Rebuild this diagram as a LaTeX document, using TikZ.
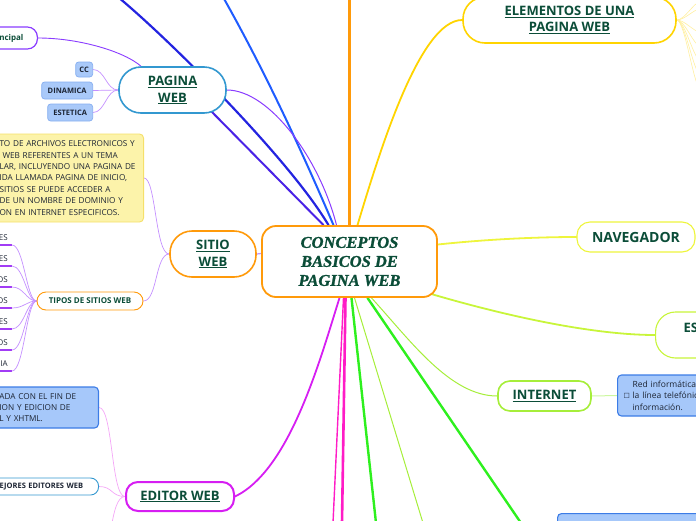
\documentclass[tikz,border=0pt]{standalone}
\usepackage{fontspec}
\setmainfont{Open Sans}
\newfontfamily\mmtitlefont[BoldItalicFeatures={FakeBold=1.2}]{Liberation Serif}
\newfontfamily\mmsymfont{DejaVu Sans}
\usepackage{tikz}
\usetikzlibrary{positioning,backgrounds,calc}
\definecolor{mmText}{HTML}{0B4D38}
\definecolor{mmInk}{HTML}{1C2433}
\definecolor{mmOrange}{HTML}{FF9A0A}
\definecolor{mmTeal}{HTML}{3398D0}
\definecolor{mmBlue}{HTML}{1F5CFF}
\definecolor{mmNavy}{HTML}{2424E0}
\definecolor{mmIndigo}{HTML}{4A22E6}
\definecolor{mmViolet}{HTML}{8A3CFF}
\definecolor{mmLeafBar}{HTML}{A23CF5}
\definecolor{mmLilac}{HTML}{C490FF}
\definecolor{mmYellow}{HTML}{FFD400}
\definecolor{mmPaleYellow}{HTML}{FFEFA0}
\definecolor{mmLime}{HTML}{EEF53C}
\definecolor{mmLimeB}{HTML}{C8F53A}
\definecolor{mmGreen}{HTML}{2EF01E}
\definecolor{mmLightGreen}{HTML}{A6EE3A}
\definecolor{mmPaleGreen}{HTML}{CDF7A0}
\definecolor{mmMagenta}{HTML}{D61EF2}
\definecolor{mmPink}{HTML}{FF1CC6}
\definecolor{mmPaleMagenta}{HTML}{F4A6F7}
\definecolor{mmChip}{HTML}{A9C9F9}
\definecolor{mmChipLine}{HTML}{86AEF0}
\definecolor{mmNoteY}{HTML}{FCF3AA}
\definecolor{mmNoteYLine}{HTML}{F5E06A}
\definecolor{mmNoteB}{HTML}{A6C8FA}
\definecolor{mmNoteBLine}{HTML}{3C7CE6}
\tikzset{
  mmnode/.style={draw, fill=white, align=center, text=mmText, inner sep=2pt},
  central/.style={mmnode, draw=mmOrange, line width=1.8pt, rounded corners=14pt,
    minimum width=175pt, minimum height=71pt,
    font=\mmtitlefont\bfseries\itshape\fontsize{16.5}{19}\selectfont},
  topic/.style={mmnode, line width=1.6pt, font=\bfseries\fontsize{13}{17}\selectfont},
  subtopic/.style={mmnode, line width=0.9pt, font=\bfseries\fontsize{8}{10}\selectfont, minimum height=18pt},
  chip/.style={mmnode, draw=mmChipLine, fill=mmChip, line width=0.7pt, rounded corners=3pt,
    text=mmInk, font=\bfseries\fontsize{7.5}{9}\selectfont, minimum height=17pt, inner xsep=3pt},
  note/.style={draw, rounded corners=4pt, line width=0.9pt, align=left, text=mmInk,
    font=\fontsize{8.2}{11.4}\selectfont, inner xsep=4pt},
  yellownote/.style={note, fill=mmNoteY, draw=mmNoteYLine},
  bluenote/.style={note, fill=mmNoteB, draw=mmNoteBLine, line width=1.1pt},
  tipoleaf/.style={inner xsep=4pt, inner ysep=4pt, text=mmInk, font=\fontsize{8}{10}\selectfont},
  branch/.style={line cap=round},
  twig/.style={line width=0.7pt, line cap=round},
  leafbar/.style={line width=1.4pt, mmLeafBar}
}
\begin{document}
\begin{tikzpicture}[x=1pt, y=-1pt]
  \useasboundingbox (0,0) rectangle (696,520);

  % centre and main topics
  \node[central] (central) at (349.5,261.5) {CONCEPTOS\\BASICOS DE\\PAGINA WEB};
  \node[topic, draw=mmTeal, minimum width=107pt, minimum height=46pt, rounded corners=22pt] (pagina) at (172.5,90) {\underline{PAGINA}\\\underline{WEB}};
  \node[topic, draw=mmOrange, minimum width=86pt, minimum height=46pt, rounded corners=22pt] (sitio) at (213,254) {\underline{SITIO}\\\underline{WEB}};
  \node[topic, draw=mmMagenta, line width=2pt, minimum width=108pt, minimum height=29pt, rounded corners=12pt] (editor) at (180,496.5) {\underline{EDITOR WEB}};
  \node[topic, draw=mmYellow, minimum width=213pt, minimum height=46pt, rounded corners=22pt, font=\bfseries\fontsize{13}{16}\selectfont] (elementos) at (569.5,20) {\underline{ELEMENTOS DE UNA}\\\underline{PAGINA WEB}};
  \node[topic, draw=mmLime, line width=1.1pt, minimum width=118pt, minimum height=30pt, rounded corners=13pt, font=\bfseries\fontsize{14}{17}\selectfont] (navegador) at (636,237) {NAVEGADOR};
  \node[topic, draw=mmLimeB, line width=1.1pt, anchor=west, minimum height=46pt, rounded corners=20pt, align=left, text width=60pt, inner xsep=28pt, text height=9pt, text depth=15pt] (es) at (655,335) {ES};
  \node[topic, draw=mmLightGreen, minimum width=93pt, minimum height=30pt, rounded corners=12pt] (internet) at (544.5,396) {\underline{INTERNET}};

  % sub topics and notes
  \node[chip, anchor=east, minimum width=17pt, minimum height=15pt] (cc) at (93,69.5) {CC};
  \node[chip, anchor=east, minimum width=51pt] (dinamica) at (93,90.5) {DINAMICA};
  \node[chip, anchor=east, minimum width=45pt] (estetica) at (93,112.5) {ESTETICA};
  \node[subtopic, draw=mmViolet, line width=1.2pt, rounded corners=10pt, anchor=east, minimum height=22pt, text width=52pt, align=right, inner xsep=14pt] (principal) at (38,38) {ncipal};
  \node[yellownote, anchor=east, text width=140pt, minimum height=88pt] (sitiodef) at (144,178) {TO DE ARCHIVOS ELECTRONICOS Y\\\hspace*{3pt}WEB REFERENTES A UN TEMA\\LAR, INCLUYENDO UNA PAGINA DE\\IDA LLAMADA PAGINA DE INICIO,\\SITIOS SE PUEDE ACCEDER A\\DE UN NOMBRE DE DOMINIO Y\\ON EN INTERNET ESPECIFICOS.};
  \node[subtopic, draw=mmOrange, rounded corners=9pt, minimum width=106pt] (tipos) at (90,301) {TIPOS DE SITIOS WEB};
  \foreach \lbl [count=\i] in {ES,ES,OS,OS,ES,OS,IA}
    \node[tipoleaf, anchor=south east] (tipo\i) at (12,224+21*\i) {\lbl};
  \node[bluenote, anchor=east, text width=95pt, minimum height=41pt] (editordef) at (99,407.5) {ADA CON EL FIN DE\\ION Y EDICION DE\\L Y XHTML.};
  \node[subtopic, draw=mmTeal, text=mmInk, rounded corners=8pt, minimum height=17pt, anchor=east, text width=87pt, align=left, inner xsep=12pt, font=\bfseries\fontsize{7.5}{9}\selectfont] (mejores) at (99,486.5) {EJORES EDITORES WEB};
  \node[bluenote, anchor=west, minimum height=41pt, text width=120pt, inner xsep=6pt, font=\fontsize{8.5}{11.7}\selectfont] (internetdef) at (617,395.5) {\makebox[9pt][l]{}Red informática\\\makebox[9pt][l]{\mmsymfont\fontsize{7}{7}\selectfont ☐}la línea telefónic\\\makebox[9pt][l]{}información.};
  \node[bluenote, anchor=north west, minimum width=160pt, minimum height=30pt] (bottomdef) at (557,513) {};

  % free ends outside the frame
  \coordinate (topA) at (223,-3);
  \coordinate (topB) at (118,-3);
  \coordinate (topC) at (349.5,-3);
  \coordinate (botA) at (333,523);
  \coordinate (botB) at (342,523);
  \coordinate (botC) at (376,523);
  \coordinate (botD) at (423,523);
  \coordinate (botE) at (521,523);
  \coordinate (botF) at (112,523);

  \begin{scope}[on background layer]
    % branches from the centre
    \draw[branch, mmBlue, line width=2pt] ([xshift=-16pt]central.north) .. controls (310,170) and (270,80) .. (topA);
    \draw[branch, mmNavy, line width=2.2pt] ([xshift=-21pt]central.north) .. controls (290,160) and (170,40) .. (topB);
    \draw[branch, mmIndigo, line width=2pt, shorten >=-3pt] ([xshift=-26pt]central.north) -- (pagina.-30);
    \draw[branch, mmViolet, line width=1pt] ([xshift=-13pt]central.north) .. controls (320,160) and (270,90) .. (pagina.east);
    \draw[branch, mmOrange, line width=2.2pt] (central.north) -- (topC);
    \draw[branch, mmYellow, line width=1.8pt] ([xshift=8pt]central.north) .. controls (380,150) and (420,20) .. (elementos.west);
    \draw[branch, mmLilac, line width=1.2pt] ([yshift=8pt]central.west) -- (sitio.east);
    \draw[branch, mmLime, line width=1.8pt] ([yshift=17pt]central.east) .. controls (480,240) and (530,237) .. (navegador.west);
    \draw[branch, mmLimeB, line width=1.8pt] ([xshift=-7pt,yshift=4pt]central.south east) .. controls (520,320) and (600,335) .. (es.west);
    \draw[branch, mmMagenta, line width=1.8pt] ([xshift=-10pt]central.south) .. controls (320,360) and (290,470) .. (editor.east);
    \draw[branch, mmPink, line width=1.4pt] ([xshift=-6pt]central.south) -- (botA);
    \draw[branch, mmPink, line width=2.6pt] ([xshift=-4pt]central.south) -- (botB);
    \draw[branch, mmGreen, line width=2.4pt] ([xshift=2pt]central.south) -- (botC);
    \draw[branch, mmLightGreen, line width=1pt] ([xshift=5pt]central.south) -- (botD);
    \draw[branch, mmGreen, line width=2.4pt] ([xshift=18pt]central.south) -- (botE);
    \draw[branch, mmLightGreen, line width=1pt] ([xshift=22pt]central.south) .. controls (410,340) and (450,396) .. (internet.west);

    % twigs to the sub topics
    \foreach \c in {cc,dinamica,estetica}
      \draw[twig, mmLilac] (\c.east) .. controls +(12,0) and +(-12,0) .. (pagina.west);
    \draw[twig, mmViolet, line width=0.9pt] (principal.east) .. controls (80,38) and (125,52) .. (pagina.143);
    \draw[twig, mmLilac] (sitiodef.east) .. controls +(12,0) and +(-14,0) .. (sitio.west);
    \draw[twig, mmLilac] (tipos.east) .. controls +(14,0) and +(-14,0) .. (sitio.west);
    \foreach \i in {1,...,7}{
      \draw[leafbar] (tipo\i.south west) -- (tipo\i.south east);
      \draw[twig, mmLilac] (tipo\i.south east) .. controls +(12,0) and +(-10,0) .. (tipos.west);
    }
    \draw[twig, mmPaleMagenta] (editordef.east) .. controls +(14,0) and +(-14,0) .. (editor.west);
    \draw[twig, mmPaleMagenta] (mejores.east) .. controls +(14,0) and +(-14,0) .. (editor.west);
    \draw[twig, mmPaleMagenta] (editor.west) .. controls +(-8,0) and +(2,-10) .. (botF);
    \draw[twig, mmPaleGreen, line width=1pt] (internet.east) -- (internetdef.west);
    \foreach \yy [count=\i] in {2,9,32,46,60,74,88}{
      \coordinate (fan\i) at (700,\yy);
      \draw[twig, mmPaleYellow, line width=0.6pt] (elementos.east) .. controls +(8,0) and +(-6,0) .. (fan\i);
    }
  \end{scope}
\end{tikzpicture}
\end{document}
